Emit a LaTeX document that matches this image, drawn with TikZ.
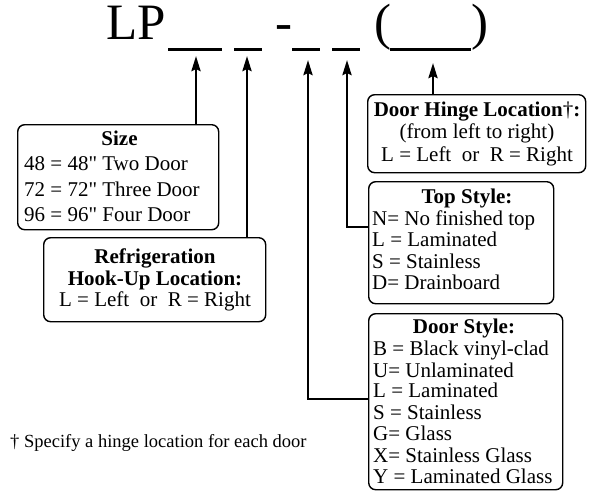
\documentclass[tikz,border=0pt]{standalone}
\usepackage{fontspec}
\setmainfont{Liberation Serif}
\newfontfamily\qfont{Liberation Serif}
\usetikzlibrary{arrows.meta}
\newcommand{\inchmark}{{\qfont\char34\relax}}
\begin{document}
\begin{tikzpicture}[x=1pt,y=-1pt,
  box/.style={draw,line width=1.4pt,rounded corners=7pt,anchor=north west,inner sep=0pt},
  txt/.style={inner sep=0pt,font=\fontsize{21}{21}\selectfont},
  ttl/.style={inner sep=0pt,font=\fontsize{21}{21}\selectfont\bfseries},
  big/.style={inner sep=0pt,font=\fontsize{51}{51}\selectfont},
  conn/.style={line width=2.6pt,-{Stealth[length=15pt,width=9pt,inset=2pt]}},
  uline/.style={line width=2.8pt}]
\useasboundingbox (0,0) rectangle (589,491);

% heading
\node[big,anchor=base west] (lp) at (106,39) {LP};
\node[big,anchor=base] (dash) at (283.5,39) {-};
\node[big,anchor=base] (lpar) at (382.5,39) {(};
\node[big,anchor=base] (rpar) at (479.5,39) {)};
\draw[uline] (168,49.5) -- (222,49.5);
\draw[uline] (234,49.5) -- (262,49.5);
\draw[uline] (292,49.5) -- (320,49.5);
\draw[uline] (332,49.5) -- (360,49.5);
\draw[uline] (390,49.5) -- (471,49.5);

% arrow tips
\coordinate (u1) at (196,56);
\coordinate (u2) at (247,56);
\coordinate (u3) at (308,60);
\coordinate (u4) at (347,60);
\coordinate (u5) at (433,63);

% boxes
\node[box,minimum width=201pt,minimum height=105pt] (size) at (17,124) {};
\node[box,minimum width=222pt,minimum height=84pt] (refr) at (43,237) {};
\node[box,minimum width=218pt,minimum height=78pt] (hinge) at (367,94) {};
\node[box,minimum width=185pt,minimum height=122pt] (top) at (368,181) {};
\node[box,minimum width=194pt,minimum height=176pt] (door) at (368,313) {};

% size text
\node[ttl,anchor=base] (s0) at (119.5,145) {Size};
\node[txt,anchor=base west] (s1) at (24,170) {48 = 48\inchmark{} Two Door};
\node[txt,anchor=base west] (s2) at (24,196) {72 = 72\inchmark{} Three Door};
\node[txt,anchor=base west] (s3) at (24,221) {96 = 96\inchmark{} Four Door};

% refrigeration text
\node[ttl,anchor=base] (r0) at (155,263) {Refrigeration};
\node[ttl,anchor=base] (r1) at (155,285) {Hook-Up Location:};
\node[txt,anchor=base] (r2) at (155,306) {L = Left\enspace or\enspace R = Right};

% hinge text
\node[ttl,anchor=base] (h0) at (477,116) {Door Hinge Location{\mdseries†}:};
\node[txt,anchor=base] (h1) at (477,138) {(from left to right)};
\node[txt,anchor=base] (h2) at (477,161) {L = Left\enspace or\enspace R = Right};

% top style text
\node[ttl,anchor=base] (t0) at (467,203) {Top Style:};
\node[txt,anchor=base west] (t1) at (372,225) {N= No finished top};
\node[txt,anchor=base west] (t2) at (372,246) {L = Laminated};
\node[txt,anchor=base west] (t3) at (372,268) {S = Stainless};
\node[txt,anchor=base west] (t4) at (372,289) {D= Drainboard};

% door style text
\node[ttl,anchor=base] (d0) at (464,333) {Door Style:};
\node[txt,anchor=base west] (d1) at (373,355) {B = Black vinyl-clad};
\node[txt,anchor=base west] (d2) at (373,377) {U= Unlaminated};
\node[txt,anchor=base west] (d3) at (373,397) {L = Laminated};
\node[txt,anchor=base west] (d4) at (373,419) {S = Stainless};
\node[txt,anchor=base west] (d5) at (373,440) {G= Glass};
\node[txt,anchor=base west] (d6) at (373,462) {X= Stainless Glass};
\node[txt,anchor=base west] (d7) at (373,483) {Y = Laminated Glass};

% footnote
\node[inner sep=0pt,font=\fontsize{18.5}{18.5}\selectfont,anchor=base west] (fn) at (10,447) {† Specify a hinge location for each door};

% connectors
\coordinate (k3) at (308,399);
\coordinate (k4) at (347,227);
\draw[conn] (size.north -| u1) -- (u1);
\draw[conn] (refr.north -| u2) -- (u2);
\draw[conn] (door.west |- k3) -| (u3);
\draw[conn] (top.west |- k4) -| (u4);
\draw[conn] (hinge.north -| u5) -- (u5);
\end{tikzpicture}
\end{document}
